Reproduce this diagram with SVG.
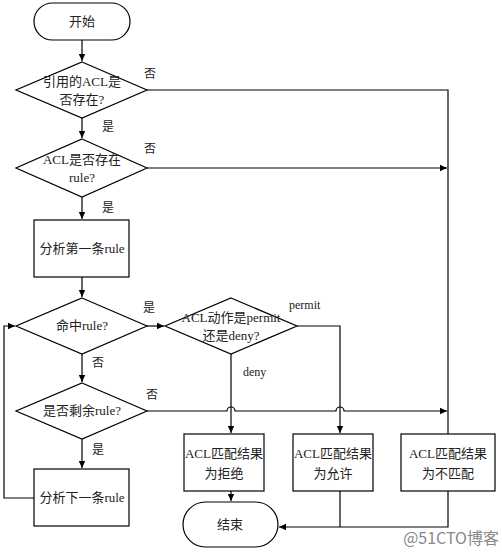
<svg xmlns="http://www.w3.org/2000/svg" width="502" height="555" viewBox="0 0 502 555">
<style>
.s{fill:#fff;stroke:#000;stroke-width:1.2}
.t{font-family:"Liberation Serif","Noto Sans CJK SC",serif;font-size:13px;fill:#222;text-anchor:middle}
.l{font-family:"Liberation Serif","Noto Sans CJK SC",serif;font-size:12px;fill:#222}
.c{fill:none;stroke:#000;stroke-width:1.2}
.a{marker-end:url(#ah)}
</style>
<defs>
<marker id="ah" markerWidth="8" markerHeight="8" refX="7" refY="4" orient="auto" markerUnits="userSpaceOnUse">
<path d="M0,0.8 L7,4 L0,7.2 Z" fill="#000"/>
</marker>
</defs>
<rect width="502" height="555" fill="#fff"/>
<g id="connectors">
<path class="c a" d="M82,40 V61"/>
<path class="c" d="M147,90 H448 V434"/>
<path class="c a" d="M82,118 V138"/>
<path class="c a" d="M147,168 H447"/>
<path class="c a" d="M82,197 V219"/>
<path class="c a" d="M82,277 V297"/>
<path class="c a" d="M147,326 H164"/>
<path class="c a" d="M82,354 V382"/>
<path class="c a" d="M82,439 V468"/>
<path class="c a" d="M34,498 H4 V326 H15"/>
<path class="c a" d="M231,354 V433"/>
<path class="c a" d="M297,326 H340 V433"/>
<path class="c a" d="M147,411 H227 A4,4 0 0 1 235,411 H336 A4,4 0 0 1 344,411 H447"/>
<path class="c a" d="M231,491 V501"/>
<path class="c" d="M340,491 V527"/>
<path class="c a" d="M448,491 V527 H279"/>
</g>
<g id="start"><rect class="s" x="34" y="3" width="96" height="37" rx="18.5"/><text class="t" x="82" y="26">开始</text></g>
<g id="d1"><path class="s" d="M82,62 L147,90 L82,118 L16,90 Z"/><text class="t" x="82" y="86">引用的ACL是</text><text class="t" x="82" y="104">否存在?</text></g>
<g id="d2"><path class="s" d="M82,139 L147,168 L82,197 L16,168 Z"/><text class="t" x="82" y="164">ACL是否存在</text><text class="t" x="82" y="182">rule?</text></g>
<g id="b1"><rect class="s" x="34" y="220" width="95" height="57"/><text class="t" x="82" y="253">分析第一条rule</text></g>
<g id="d3"><path class="s" d="M82,298 L147,326 L82,354 L16,326 Z"/><text class="t" x="82" y="330">命中rule?</text></g>
<g id="d4"><path class="s" d="M231,298 L297,326 L231,354 L165,326 Z"/><text class="t" x="231" y="322">ACL动作是permit</text><text class="t" x="231" y="340">还是deny?</text></g>
<g id="d5"><path class="s" d="M82,383 L147,411 L82,439 L16,411 Z"/><text class="t" x="82" y="415">是否剩余rule?</text></g>
<g id="b2"><rect class="s" x="34" y="469" width="95" height="57"/><text class="t" x="82" y="502">分析下一条rule</text></g>
<g id="r1"><rect class="s" x="184" y="434" width="80" height="57"/><text class="t" x="224" y="458">ACL匹配结果</text><text class="t" x="224" y="478">为拒绝</text></g>
<g id="r2"><rect class="s" x="293" y="434" width="80" height="57"/><text class="t" x="333" y="458">ACL匹配结果</text><text class="t" x="333" y="478">为允许</text></g>
<g id="r3"><rect class="s" x="401" y="434" width="94" height="57"/><text class="t" x="448" y="458">ACL匹配结果</text><text class="t" x="448" y="478">为不匹配</text></g>
<g id="end"><rect class="s" x="183" y="502" width="95" height="45" rx="22.5"/><text class="t" x="230" y="529">结束</text></g>
<g id="labels">
<text class="l" x="144" y="78">否</text>
<text class="l" x="102" y="131">是</text>
<text class="l" x="144" y="153">否</text>
<text class="l" x="102" y="212">是</text>
<text class="l" x="143" y="312">是</text>
<text class="l" x="92" y="367">否</text>
<text class="l" x="289" y="309">permit</text>
<text class="l" x="243" y="376">deny</text>
<text class="l" x="146" y="399">否</text>
<text class="l" x="92" y="454">是</text>
</g>
<text x="499" y="544" text-anchor="end" style="font-family:'Noto Sans CJK SC',sans-serif;font-size:16px;fill:#888">@51CTO博客</text>
</svg>
